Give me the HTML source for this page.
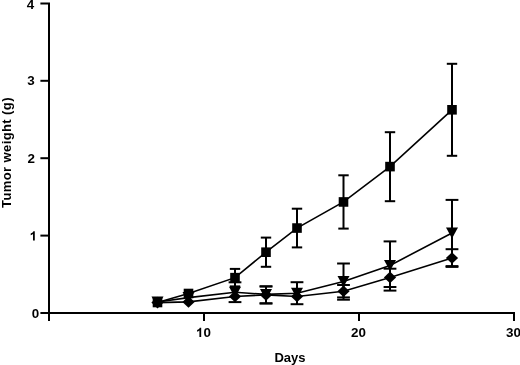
<!DOCTYPE html>
<html><head><meta charset="utf-8"><style>
html,body{margin:0;padding:0;background:#fff;}
body{width:520px;height:365px;overflow:hidden;}
svg{display:block;will-change:transform;}
text{font-family:"Liberation Sans",sans-serif;font-weight:bold;font-size:13px;fill:#000;}
</style></head><body>
<svg width="520" height="365" viewBox="0 0 520 365">
<rect width="520" height="365" fill="#fff"/>
<polyline points="40.4,3.5 49,3.5 49,321" fill="none" stroke="#000" stroke-width="2" stroke-linejoin="miter"/>
<polyline points="40.4,313 514,313 514,321" fill="none" stroke="#000" stroke-width="2" stroke-linejoin="miter"/>
<line x1="40.4" y1="235.6" x2="49" y2="235.6" stroke="#000" stroke-width="2"/>
<line x1="40.4" y1="158.2" x2="49" y2="158.2" stroke="#000" stroke-width="2"/>
<line x1="40.4" y1="80.8" x2="49" y2="80.8" stroke="#000" stroke-width="2"/>
<line x1="204.0" y1="313" x2="204.0" y2="321" stroke="#000" stroke-width="2"/>
<line x1="359.0" y1="313" x2="359.0" y2="321" stroke="#000" stroke-width="2"/>
<line x1="266.00" y1="286.40" x2="266.00" y2="303.40" stroke="#000" stroke-width="2.0"/>
<line x1="259.60" y1="286.40" x2="272.40" y2="286.40" stroke="#000" stroke-width="2.0"/>
<line x1="259.60" y1="303.40" x2="272.40" y2="303.40" stroke="#000" stroke-width="2.0"/>
<line x1="343.50" y1="285.00" x2="343.50" y2="297.40" stroke="#000" stroke-width="2.0"/>
<line x1="337.10" y1="285.00" x2="349.90" y2="285.00" stroke="#000" stroke-width="2.0"/>
<line x1="337.10" y1="297.40" x2="349.90" y2="297.40" stroke="#000" stroke-width="2.0"/>
<line x1="390.00" y1="268.70" x2="390.00" y2="287.00" stroke="#000" stroke-width="2.0"/>
<line x1="383.60" y1="268.70" x2="396.40" y2="268.70" stroke="#000" stroke-width="2.0"/>
<line x1="383.60" y1="287.00" x2="396.40" y2="287.00" stroke="#000" stroke-width="2.0"/>
<line x1="452.00" y1="249.20" x2="452.00" y2="266.90" stroke="#000" stroke-width="2.0"/>
<line x1="445.60" y1="249.20" x2="458.40" y2="249.20" stroke="#000" stroke-width="2.0"/>
<line x1="445.60" y1="266.90" x2="458.40" y2="266.90" stroke="#000" stroke-width="2.0"/>
<line x1="235.00" y1="282.30" x2="235.00" y2="302.10" stroke="#000" stroke-width="2.0"/>
<line x1="228.60" y1="282.30" x2="241.40" y2="282.30" stroke="#000" stroke-width="2.0"/>
<line x1="228.60" y1="302.10" x2="241.40" y2="302.10" stroke="#000" stroke-width="2.0"/>
<line x1="266.00" y1="286.40" x2="266.00" y2="303.40" stroke="#000" stroke-width="2.0"/>
<line x1="259.60" y1="286.40" x2="272.40" y2="286.40" stroke="#000" stroke-width="2.0"/>
<line x1="259.60" y1="303.40" x2="272.40" y2="303.40" stroke="#000" stroke-width="2.0"/>
<line x1="297.00" y1="282.20" x2="297.00" y2="304.20" stroke="#000" stroke-width="2.0"/>
<line x1="290.60" y1="282.20" x2="303.40" y2="282.20" stroke="#000" stroke-width="2.0"/>
<line x1="290.60" y1="304.20" x2="303.40" y2="304.20" stroke="#000" stroke-width="2.0"/>
<line x1="343.50" y1="263.50" x2="343.50" y2="299.70" stroke="#000" stroke-width="2.0"/>
<line x1="337.10" y1="263.50" x2="349.90" y2="263.50" stroke="#000" stroke-width="2.0"/>
<line x1="337.10" y1="299.70" x2="349.90" y2="299.70" stroke="#000" stroke-width="2.0"/>
<line x1="390.00" y1="241.40" x2="390.00" y2="290.60" stroke="#000" stroke-width="2.0"/>
<line x1="383.60" y1="241.40" x2="396.40" y2="241.40" stroke="#000" stroke-width="2.0"/>
<line x1="383.60" y1="290.60" x2="396.40" y2="290.60" stroke="#000" stroke-width="2.0"/>
<line x1="452.00" y1="199.90" x2="452.00" y2="266.10" stroke="#000" stroke-width="2.0"/>
<line x1="445.60" y1="199.90" x2="458.40" y2="199.90" stroke="#000" stroke-width="2.0"/>
<line x1="445.60" y1="266.10" x2="458.40" y2="266.10" stroke="#000" stroke-width="2.0"/>
<line x1="235.00" y1="268.90" x2="235.00" y2="286.40" stroke="#000" stroke-width="2.0"/>
<line x1="229.80" y1="268.90" x2="240.20" y2="268.90" stroke="#000" stroke-width="2.0"/>
<line x1="229.80" y1="286.40" x2="240.20" y2="286.40" stroke="#000" stroke-width="2.0"/>
<line x1="266.00" y1="237.60" x2="266.00" y2="266.80" stroke="#000" stroke-width="2.0"/>
<line x1="260.80" y1="237.60" x2="271.20" y2="237.60" stroke="#000" stroke-width="2.0"/>
<line x1="260.80" y1="266.80" x2="271.20" y2="266.80" stroke="#000" stroke-width="2.0"/>
<line x1="297.00" y1="208.70" x2="297.00" y2="247.40" stroke="#000" stroke-width="2.0"/>
<line x1="291.80" y1="208.70" x2="302.20" y2="208.70" stroke="#000" stroke-width="2.0"/>
<line x1="291.80" y1="247.40" x2="302.20" y2="247.40" stroke="#000" stroke-width="2.0"/>
<line x1="343.50" y1="175.30" x2="343.50" y2="228.60" stroke="#000" stroke-width="2.0"/>
<line x1="338.30" y1="175.30" x2="348.70" y2="175.30" stroke="#000" stroke-width="2.0"/>
<line x1="338.30" y1="228.60" x2="348.70" y2="228.60" stroke="#000" stroke-width="2.0"/>
<line x1="390.00" y1="132.20" x2="390.00" y2="201.20" stroke="#000" stroke-width="2.0"/>
<line x1="384.80" y1="132.20" x2="395.20" y2="132.20" stroke="#000" stroke-width="2.0"/>
<line x1="384.80" y1="201.20" x2="395.20" y2="201.20" stroke="#000" stroke-width="2.0"/>
<line x1="452.00" y1="63.80" x2="452.00" y2="155.80" stroke="#000" stroke-width="2.0"/>
<line x1="446.80" y1="63.80" x2="457.20" y2="63.80" stroke="#000" stroke-width="2.0"/>
<line x1="446.80" y1="155.80" x2="457.20" y2="155.80" stroke="#000" stroke-width="2.0"/>
<polyline points="157.50,302.60 188.50,301.90 235.00,296.50 266.00,294.90 297.00,296.50 343.50,291.20 390.00,277.40 452.00,258.05" fill="none" stroke="#000" stroke-width="1.6" stroke-linejoin="miter"/>
<polyline points="157.50,302.00 188.50,297.60 235.00,292.20 266.00,294.40 297.00,293.20 343.50,281.60 390.00,265.40 452.00,233.00" fill="none" stroke="#000" stroke-width="1.6" stroke-linejoin="miter"/>
<polyline points="157.50,302.50 188.50,293.50 235.00,277.65 266.00,252.20 297.00,228.05 343.50,201.95 390.00,166.60 452.00,109.80" fill="none" stroke="#000" stroke-width="1.6" stroke-linejoin="miter"/>
<polygon points="157.50,296.80 163.60,302.60 157.50,308.40 151.40,302.60" fill="#000"/>
<polygon points="188.50,296.10 194.60,301.90 188.50,307.70 182.40,301.90" fill="#000"/>
<polygon points="235.00,290.70 241.10,296.50 235.00,302.30 228.90,296.50" fill="#000"/>
<polygon points="266.00,289.10 272.10,294.90 266.00,300.70 259.90,294.90" fill="#000"/>
<polygon points="297.00,290.70 303.10,296.50 297.00,302.30 290.90,296.50" fill="#000"/>
<polygon points="343.50,285.40 349.60,291.20 343.50,297.00 337.40,291.20" fill="#000"/>
<polygon points="390.00,271.60 396.10,277.40 390.00,283.20 383.90,277.40" fill="#000"/>
<polygon points="452.00,252.25 458.10,258.05 452.00,263.85 445.90,258.05" fill="#000"/>
<polygon points="151.50,296.50 163.50,296.50 157.50,307.50" fill="#000"/>
<polygon points="182.50,292.10 194.50,292.10 188.50,303.10" fill="#000"/>
<polygon points="229.00,286.70 241.00,286.70 235.00,297.70" fill="#000"/>
<polygon points="260.00,288.90 272.00,288.90 266.00,299.90" fill="#000"/>
<polygon points="291.00,287.70 303.00,287.70 297.00,298.70" fill="#000"/>
<polygon points="337.50,276.10 349.50,276.10 343.50,287.10" fill="#000"/>
<polygon points="384.00,259.90 396.00,259.90 390.00,270.90" fill="#000"/>
<polygon points="446.00,227.50 458.00,227.50 452.00,238.50" fill="#000"/>
<rect x="152.70" y="297.70" width="9.6" height="9.6" fill="#000"/>
<rect x="183.70" y="288.70" width="9.6" height="9.6" fill="#000"/>
<rect x="230.20" y="272.85" width="9.6" height="9.6" fill="#000"/>
<rect x="261.20" y="247.40" width="9.6" height="9.6" fill="#000"/>
<rect x="292.20" y="223.25" width="9.6" height="9.6" fill="#000"/>
<rect x="338.70" y="197.15" width="9.6" height="9.6" fill="#000"/>
<rect x="385.20" y="161.80" width="9.6" height="9.6" fill="#000"/>
<rect x="447.20" y="105.00" width="9.6" height="9.6" fill="#000"/>
<text x="34.15" y="9.3" text-anchor="end" style="font-size:13.4px">4</text>
<text x="34.65" y="85.3" text-anchor="end" style="font-size:13.4px">3</text>
<text x="35.05" y="163.3" text-anchor="end" style="font-size:13.4px">2</text>
<text x="39.3" y="318.4" text-anchor="end" style="font-size:13.4px">0</text>
<text x="203.4" y="337.2" text-anchor="start" style="font-size:13.4px">0</text>
<text x="358.4" y="337.2" text-anchor="middle" style="font-size:13.4px">20</text>
<text x="506.0" y="337.2" text-anchor="start" style="font-size:13.4px">30</text>
<text x="290.0" y="361.7" text-anchor="middle">Days</text>
<path transform="translate(29.6,240.6)" d="M5.19,0 L3.41,0 L3.41,-6.72 Q2.43,-5.81 1.10,-5.37 L1.10,-6.99 Q2.2,-7.35 2.95,-8.05 Q3.55,-8.6 3.75,-9.31 L5.19,-9.31 Z" fill="#000"/>
<path transform="translate(196.0,337.1)" d="M5.19,0 L3.41,0 L3.41,-6.72 Q2.43,-5.81 1.10,-5.37 L1.10,-6.99 Q2.2,-7.35 2.95,-8.05 Q3.55,-8.6 3.75,-9.31 L5.19,-9.31 Z" fill="#000"/>
<text x="0" y="0" text-anchor="middle" letter-spacing="0.4" transform="translate(11.4,152.55) rotate(-90)">Tumor weight (g)</text>
</svg>
</body></html>
